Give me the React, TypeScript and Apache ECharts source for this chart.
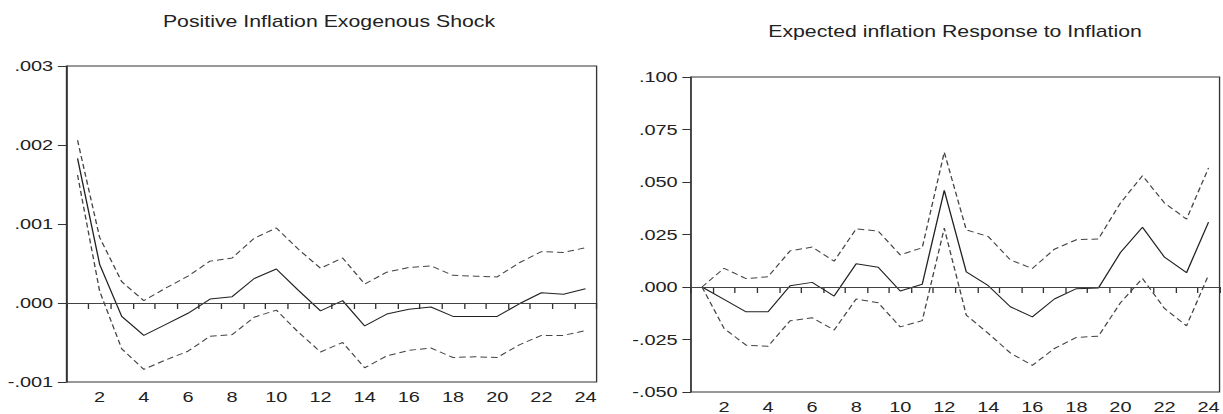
import React, { useEffect, useRef } from "react";
import * as echarts from "echarts";

const periods = Array.from({ length: 24 }, (_, i) => String(i + 1));

const titleLeft = "Positive Inflation Exogenous Shock";
const titleRight = "Expected inflation Response to Inflation";

const shockUpper = [0.00206, 0.00083, 0.00027, 0.00003, 0.00019, 0.00034, 0.00053, 0.00057, 0.00082, 0.00095, 0.00068, 0.00044, 0.00057, 0.00024, 0.00039, 0.00045, 0.00047, 0.00035, 0.00034, 0.00033, 0.00051, 0.00065, 0.00064, 0.0007];
const shockMid = [0.00183, 0.00049, -0.00017, -0.00041, -0.00027, -0.00013, 0.00005, 0.00008, 0.00031, 0.00043, 0.00016, -0.0001, 0.00003, -0.00029, -0.00014, -0.00008, -0.00005, -0.00017, -0.00017, -0.00017, -0.00001, 0.00013, 0.00011, 0.00018];
const shockLower = [0.00162, 0.00015, -0.00058, -0.00084, -0.00072, -0.00061, -0.00042, -0.0004, -0.00018, -0.00009, -0.00037, -0.00062, -0.0005, -0.00082, -0.00067, -0.0006, -0.00057, -0.00069, -0.00068, -0.00069, -0.00053, -0.00041, -0.00041, -0.00035];

const expMid = [0, -0.0059, -0.0118, -0.0118, 0.0006, 0.0022, -0.0043, 0.0111, 0.0094, -0.0019, 0.0013, 0.046, 0.0072, 0.0006, -0.0094, -0.0142, -0.0057, -0.0008, -0.0005, 0.0164, 0.0285, 0.0142, 0.0068, 0.0309];
const expUpper = [0, 0.0089, 0.004, 0.0049, 0.0172, 0.019, 0.0123, 0.0277, 0.0266, 0.0153, 0.0187, 0.0642, 0.0272, 0.024, 0.0129, 0.0088, 0.018, 0.0225, 0.0229, 0.04, 0.053, 0.04, 0.0323, 0.0567];
const expLower = [0, -0.0197, -0.0277, -0.0282, -0.0161, -0.0146, -0.0205, -0.0057, -0.0075, -0.019, -0.016, 0.028, -0.0134, -0.0221, -0.0314, -0.0373, -0.0293, -0.024, -0.0234, -0.0075, 0.0041, -0.0102, -0.0185, 0.0057];

const FONT = "Arial, 'Liberation Sans', Helvetica, sans-serif";
const INK = "#222";

// The reference picture is stretched horizontally; the chart is drawn
// in a narrower box and widened with a CSS scaleX.
const PAGE_W = 1223;
const PAGE_H = 414;
const STRETCH = 1.33;
const W = PAGE_W / STRETCH;
const px = (realX: number) => realX / STRETCH;

const fmt = (v: number) => {
  const s = v.toFixed(3);
  return s.replace(/^(-?)0\./, "$1.");
};

export default function App() {
  const ref = useRef<HTMLDivElement>(null);
  useEffect(() => {
    document.body.style.margin = "0";
    const chart = echarts.init(ref.current!, undefined, { renderer: "svg" });

    const xAxisBase = (gridIndex: number) => ({
      type: "category" as const,
      gridIndex,
      data: periods,
      boundaryGap: true,
      axisLine: { lineStyle: { color: "#333", width: 1 } },
      axisTick: { show: true, interval: 0, length: 6, lineStyle: { color: "#333" } },
      axisLabel: {
        interval: (i: number) => i % 2 === 1,
        color: INK,
        fontFamily: FONT,
        fontSize: 15,
        margin: 7,
      },
      splitLine: { show: false },
    });

    const yAxisBase = (gridIndex: number, min: number, max: number, interval: number) => ({
      type: "value" as const,
      gridIndex,
      min,
      max,
      interval,
      axisLine: { show: true, lineStyle: { color: "#333", width: 1 } },
      axisTick: { show: true, length: 6.5, lineStyle: { color: "#333" } },
      axisLabel: { color: INK, fontFamily: FONT, fontSize: 15, margin: 10, formatter: fmt },
      splitLine: { show: false },
    });

    const line = (xi: number, data: number[], dashed: boolean, zero: boolean) => ({
      type: "line" as const,
      xAxisIndex: xi,
      yAxisIndex: xi,
      data,
      symbol: "none",
      silent: true,
      lineStyle: {
        color: dashed ? "#444" : "#222",
        width: 1,
        type: dashed ? ([5, 3] as any) : "solid",
      },
      markLine: zero
        ? {
            silent: true,
            symbol: "none",
            label: { show: false },
            lineStyle: { color: "#444", width: 1, type: "solid" },
            data: [{ yAxis: 0 }],
          }
        : undefined,
    });

    chart.setOption({
      animation: false,
      backgroundColor: "#fff",
      grid: [
        { left: px(66.5), right: W - px(596), top: 66, bottom: 32, show: true, borderColor: "#333", borderWidth: 1 },
        { left: px(691), right: W - px(1220), top: 77, bottom: 22, show: true, borderColor: "#333", borderWidth: 1 },
      ],
      xAxis: [xAxisBase(0), xAxisBase(1)],
      yAxis: [yAxisBase(0, -0.001, 0.003, 0.001), yAxisBase(1, -0.05, 0.1, 0.025)],
      graphic: [
        {
          type: "text",
          x: px(329),
          y: 21,
          style: { text: titleLeft, fill: INK, font: `16px ${FONT}`, textAlign: "center", textVerticalAlign: "middle" },
        },
        {
          type: "text",
          x: px(955),
          y: 31,
          style: { text: titleRight, fill: INK, font: `16px ${FONT}`, textAlign: "center", textVerticalAlign: "middle" },
        },
      ],
      series: [
        line(0, shockMid, false, true),
        line(0, shockUpper, true, false),
        line(0, shockLower, true, false),
        line(1, expMid, false, true),
        line(1, expUpper, true, false),
        line(1, expLower, true, false),
      ],
    });
    return () => chart.dispose();
  }, []);
  return (
    <div style={{ position: "absolute", left: 0, top: 0, width: PAGE_W, height: PAGE_H, overflow: "hidden", background: "#fff" }}>
      <div
        ref={ref}
        style={{ width: W, height: PAGE_H, transform: `scaleX(${STRETCH})`, transformOrigin: "0 0" }}
      />
    </div>
  );
}
